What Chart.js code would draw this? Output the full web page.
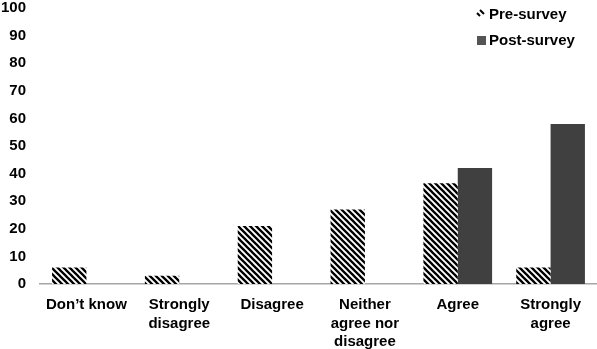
<!DOCTYPE html>
<html>
<head>
<meta charset="utf-8">
<script src="https://cdn.jsdelivr.net/npm/chart.js@4/dist/chart.umd.min.js"></script>
<style>
html,body{margin:0;padding:0;background:#fff;}
#wrap{width:597px;height:349px;position:relative;}
</style>
</head>
<body>
<div id="wrap"><canvas id="c" width="597" height="349"></canvas></div>
<script>
const categories = ["Don\u2019t know", ["Strongly","disagree"], "Disagree", ["Neither","agree nor","disagree"], "Agree", ["Strongly","agree"]];
const preSurvey = [6, 3, 21, 27, 36.5, 6];
const postSurvey = [0, 0, 0, 0, 42, 58];
const seriesNames = ["Pre-survey", "Post-survey"];
const yTicks = [0,10,20,30,40,50,60,70,80,90,100];

function makeHatch(){
  const p = document.createElement('canvas');
  const s = 6;
  p.width = s; p.height = s;
  const g = p.getContext('2d');
  g.fillStyle = '#fff'; g.fillRect(0,0,s,s);
  g.strokeStyle = '#000'; g.lineWidth = 2.3;
  g.beginPath();
  for (let k=-1;k<=1;k++){
    g.moveTo(k*s - 1, -1); g.lineTo(k*s + s + 1, s + 1);
  }
  g.stroke();
  return document.getElementById('c').getContext('2d').createPattern(p,'repeat');
}
const hatch = makeHatch();
const postColor = '#404040';

const legendPlugin = {
  id: 'customLegend',
  afterDraw(chart){
    const ctx = chart.ctx;
    ctx.save();
    ctx.font = 'bold 15px "Liberation Sans", Arial, sans-serif';
    ctx.textBaseline = 'middle';
    const x0 = 477, ys = [15, 41];
    chart.data.datasets.forEach((ds, i) => {
      const y = ys[i];
      if (i === 0) {
        ctx.strokeStyle = '#000';
        ctx.lineWidth = 2;
        ctx.beginPath();
        ctx.moveTo(x0, y - 2); ctx.lineTo(x0 + 3, y + 1);
        ctx.moveTo(x0 + 3, y - 5); ctx.lineTo(x0 + 7, y - 1);
        ctx.stroke();
      } else {
        ctx.fillStyle = '#555';
        ctx.fillRect(x0, y - 5, 9, 9);
      }
      ctx.fillStyle = '#000';
      ctx.fillText(ds.label, x0 + 12, y);
    });
    ctx.restore();
  }
};

new Chart(document.getElementById('c'), {
  type: 'bar',
  data: {
    labels: categories,
    datasets: [
      { label: seriesNames[0], data: preSurvey, backgroundColor: hatch, borderWidth: 0 },
      { label: seriesNames[1], data: postSurvey, backgroundColor: postColor, borderWidth: 0 }
    ]
  },
  options: {
    responsive: false,
    animation: false,
    devicePixelRatio: 1,
    layout: { padding: { top: 0, right: 0, left: 0, bottom: 0 } },
    plugins: { legend: { display: false }, tooltip: { enabled: false } },
    datasets: { bar: { categoryPercentage: 0.74, barPercentage: 1.0 } },
    scales: {
      x: {
        afterFit(axis){ axis.height = 65; axis.paddingLeft = 0; axis.paddingRight = 0; },
        grid: { display: false, drawTicks: false },
        border: { display: true, color: '#a6a6a6', width: 1.5 },
        ticks: {
          color: '#000', maxRotation: 0, autoSkip: false, padding: 12,
          font: { family: '"Liberation Sans", Arial, sans-serif', size: 15, weight: 'bold', lineHeight: 1.22 }
        }
      },
      y: {
        min: 0, max: 100,
        afterBuildTicks(axis){ axis.ticks = yTicks.map(v => ({ value: v })); },
        afterFit(axis){ axis.width = 40; axis.paddingTop = 8; axis.paddingBottom = 0; },
        grid: { display: false, drawTicks: false },
        border: { display: false },
        ticks: {
          color: '#000', padding: 14,
          font: { family: '"Liberation Sans", Arial, sans-serif', size: 15, weight: 'bold' }
        }
      }
    }
  },
  plugins: [legendPlugin]
});
</script>
</body>
</html>
